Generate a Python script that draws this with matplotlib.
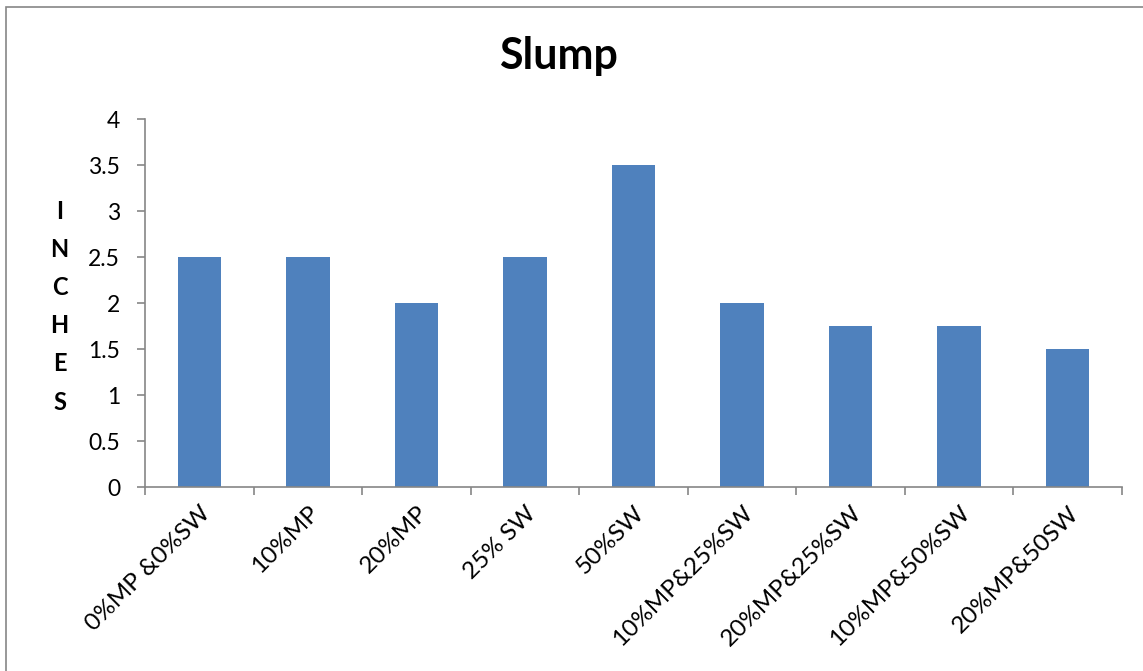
import matplotlib
matplotlib.use("Agg")
import matplotlib.pyplot as plt
from matplotlib.patches import Rectangle
from matplotlib.ticker import MultipleLocator, FuncFormatter, FixedLocator

plt.rcParams['font.family'] = ['Lato', 'DejaVu Sans']

categories = ["0%MP &0%SW", "10%MP", "20%MP", "25% SW", "50%SW",
              "10%MP&25%SW", "20%MP&25%SW", "10%MP&50%SW", "20%MP&50SW"]
slump = [2.5, 2.5, 2.0, 2.5, 3.5, 2.0, 1.75, 1.75, 1.5]

W, H = 1143, 671
fig = plt.figure(figsize=(W / 100, H / 100), dpi=100)
ax = fig.add_axes([145 / W, 1 - 487 / H, (1122 - 145) / W, (487 - 119) / H])

x = list(range(len(categories)))
ax.bar(x, slump, width=0.4, color="#4F81BD", zorder=2)

ax.set_xlim(-0.5, len(categories) - 0.5)
ax.set_ylim(0, 4)

axis_grey = "#868686"
for side in ("top", "right"):
    ax.spines[side].set_visible(False)
for side in ("left", "bottom"):
    ax.spines[side].set_color(axis_grey)
    ax.spines[side].set_linewidth(1.2)

ax.yaxis.set_major_locator(MultipleLocator(0.5))
ax.yaxis.set_major_formatter(FuncFormatter(lambda v, p: f"{v:g}"))
ax.tick_params(axis="y", direction="out", length=6, width=1.2,
               color=axis_grey, pad=12, labelsize=16.5)

# labels sit under bar centres, tick marks sit on category boundaries
ax.set_xticks(x)
ax.set_xticklabels(categories, rotation=45, ha="right", va="top",
                   rotation_mode="anchor", fontsize=17.5)
ax.tick_params(axis="x", which="major", length=0, pad=11)
ax.xaxis.set_minor_locator(FixedLocator([i - 0.5 for i in range(len(categories) + 1)]))
ax.tick_params(axis="x", which="minor", direction="out", length=6, width=1.2,
               color=axis_grey)

fig.text(558.5 / W, 1 - 69.3 / H, "Slump", ha="center", va="baseline",
         fontsize=31, fontweight="bold")

fig.text(59.5 / W, 1 - 306.5 / H, "I\nN\nC\nH\nE\nS", ha="center",
         va="center", fontsize=17, fontweight="bold", linespacing=1.8)

# chart-area frame
fig.add_artist(Rectangle((6 / W, -0.2), 1.5, 1 - 7.3 / H + 0.2,
                         transform=fig.transFigure, fill=False,
                         edgecolor=axis_grey, linewidth=1.2, clip_on=False))

fig.savefig("out.png", dpi=100)
